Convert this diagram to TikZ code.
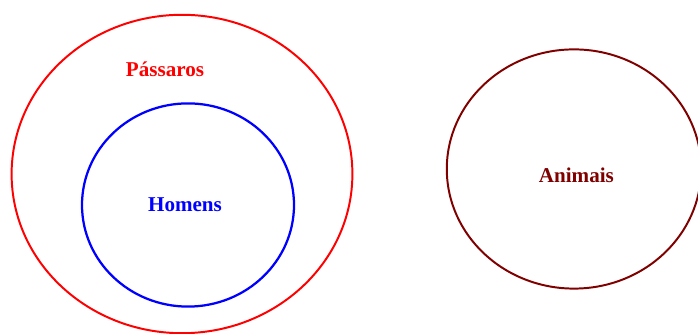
\documentclass[tikz,border=0pt]{standalone}
\usepackage{fontspec}
\setmainfont{Liberation Serif}
\usepackage{tikz}
\usepackage{xcolor}
\usetikzlibrary{positioning}
\definecolor{setred}{RGB}{255,0,0}
\definecolor{setblue}{RGB}{0,0,255}
\definecolor{setbrown}{RGB}{128,0,0}

\begin{document}
\begin{tikzpicture}[x=1cm,y=1cm,line cap=round,line join=round,
	setlabel/.style={font=\bfseries\fontsize{15}{18}\selectfont,inner sep=0pt}]
		\useasboundingbox (0,0) rectangle (17.45,8.35);
		\draw[setred,line width=1.4pt] (4.55,4.00) ellipse [x radius=4.26,y radius=3.98];
		\draw[setblue,line width=1.6pt] (4.70,3.225) ellipse [x radius=2.65,y radius=2.54];
		\draw[setbrown,line width=1.4pt] (14.35,4.125) ellipse [x radius=3.18,y radius=2.99];
		\node[setlabel,text=setred] (passaros) at (4.125,6.625) {Pássaros};
		\node[setlabel,text=setblue] (homens) at (4.625,3.225) {Homens};
		\node[setlabel,text=setbrown] (animais) at (14.41,3.975) {Animais};
\end{tikzpicture}
\end{document}
